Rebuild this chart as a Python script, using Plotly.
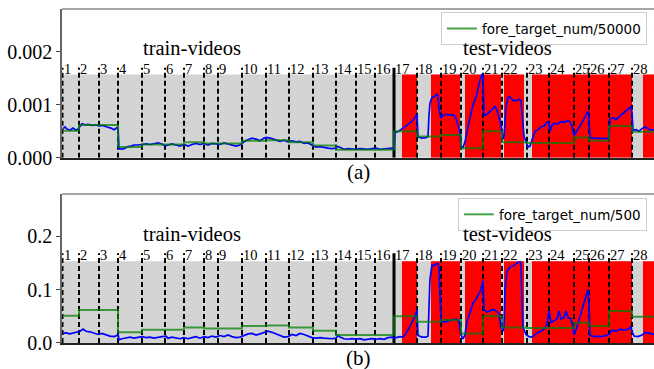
import plotly.graph_objects as go

# ---------------- data ----------------
video_labels = ["1", "2", "3", "4", "5", "6", "7", "8", "9", "10", "11", "12", "13", "14",
                "15", "16", "17", "18", "19", "20", "21", "22", "23", "24", "25", "26", "27", "28"]
video_start = [5, 170, 370, 560, 800, 1030, 1220, 1420, 1560, 1800, 2040, 2270, 2510, 2740,
               2940, 3130, 3320, 3550, 3790, 3990, 4210, 4400, 4650, 4870, 5120, 5270, 5470, 5700]
fore_target_num = [25.5, 31, 31, 10, 12.5, 12.5, 14.5, 13.5, 13.5, 16, 16.5, 14.5, 11.5, 7.5,
                   7.5, 7.5, 25, 20, 21.5, 9, 25, 14.5, 14, 14, 19, 16, 30, 24.5]
frame_end = 5920
test_start_video = 16  # index of video 17 (first test video)

red_start = [3400, 3690, 4030, 4420, 4700, 5810]
red_end = [3550, 3980, 4390, 4620, 5700, 6300]

# blue curve, panel (a)
blue_a_frames = [10, 30, 50, 80, 110, 140, 160, 180, 200, 230, 260, 300, 340, 370, 410, 450, 490, 520, 540, 560,
                 570, 600, 630, 660, 690, 720, 760, 800, 840, 880, 920, 960, 1000, 1030, 1060, 1100, 1140, 1180,
                 1220, 1260, 1300, 1340, 1380, 1420, 1460, 1500, 1540, 1580, 1620, 1660, 1700, 1740, 1780, 1820,
                 1860, 1900, 1940, 1980, 2020, 2060, 2100, 2140, 2180, 2220, 2260, 2300, 2340, 2380, 2420, 2460,
                 2500, 2540, 2580, 2620, 2660, 2700, 2740, 2760, 2780, 2820, 2860, 2900, 2940, 2980, 3020, 3060,
                 3100, 3140, 3180, 3220, 3260, 3300, 3320,
                 3330, 3360, 3390, 3430, 3470, 3510, 3540, 3550,
                 3560, 3600, 3640, 3660, 3670, 3680, 3700, 3730, 3750, 3760, 3770,
                 3790, 3810, 3840, 3880, 3920, 3940, 3960, 3980,
                 3990, 4010, 4030, 4060, 4090, 4120, 4150, 4170, 4190, 4200, 4210,
                 4220, 4250, 4280, 4310, 4330, 4350, 4370, 4390, 4410,
                 4420, 4440, 4460, 4480, 4510, 4540, 4570, 4590, 4600, 4620, 4640,
                 4660, 4680, 4700, 4730, 4760, 4790, 4820, 4850, 4870,
                 4880, 4900, 4930, 4960, 4990, 5020, 5050, 5080, 5100, 5120,
                 5150, 5180, 5210, 5240, 5260, 5270,
                 5280, 5320, 5360, 5400, 5440, 5470,
                 5480, 5510, 5540, 5570, 5600, 5630, 5660, 5690, 5700,
                 5710, 5740, 5770, 5800, 5830, 5860, 5890, 5920]
blue_a_vals = [0.00055, 0.00058, 0.00054, 0.00052, 0.00056, 0.00052, 0.00054, 0.00060, 0.00064, 0.00062,
               0.00063, 0.00061, 0.00062, 0.00060, 0.00061, 0.00058, 0.00056, 0.00053, 0.00055, 0.00058,
               0.00017, 0.00016, 0.00018, 0.00021, 0.00022, 0.00024, 0.00024, 0.00025, 0.00026, 0.00025,
               0.00026, 0.00028, 0.00026, 0.00022, 0.00024, 0.00026, 0.00024, 0.00022, 0.00025, 0.00022,
               0.00025, 0.00027, 0.00025, 0.00027, 0.00024, 0.00027, 0.00026, 0.00025, 0.00028, 0.00026,
               0.00024, 0.00022, 0.00024, 0.00030, 0.00034, 0.00037, 0.00035, 0.00032, 0.00037, 0.00038,
               0.00036, 0.00033, 0.00031, 0.00033, 0.00030, 0.00032, 0.00030, 0.00031, 0.00027, 0.00028,
               0.00024, 0.00020, 0.00021, 0.00019, 0.00018, 0.00017, 0.00018, 0.00021, 0.00019, 0.00016,
               0.00017, 0.00016, 0.00016, 0.00017, 0.00016, 0.00016, 0.00017, 0.00018, 0.00016, 0.00017,
               0.00018, 0.00018, 0.00017,
               0.00048, 0.00049, 0.00053, 0.00058, 0.00064, 0.00071, 0.00080, 0.00082,
               0.00039, 0.00037, 0.00038, 0.00040, 0.00080, 0.00103, 0.00114, 0.00116, 0.00120, 0.00118, 0.00090,
               0.00075, 0.00080, 0.00082, 0.00081, 0.00080, 0.00075, 0.00060, 0.00047,
               0.00022, 0.00019, 0.00030, 0.00060, 0.00085, 0.00105, 0.00120, 0.00140, 0.00152, 0.00158, 0.00155,
               0.00080, 0.00082, 0.00088, 0.00095, 0.00097, 0.00090, 0.00075, 0.00062, 0.00035,
               0.00040, 0.00095, 0.00114, 0.00115, 0.00108, 0.00108, 0.00110, 0.00108, 0.00080, 0.00040, 0.00030,
               0.00020, 0.00022, 0.00035, 0.00050, 0.00053, 0.00058, 0.00060, 0.00067, 0.00066,
               0.00050, 0.00062, 0.00065, 0.00064, 0.00068, 0.00067, 0.00070, 0.00068, 0.00060, 0.00042,
               0.00050, 0.00060, 0.00070, 0.00080, 0.00088, 0.00070,
               0.00038, 0.00037, 0.00037, 0.00036, 0.00036, 0.00036,
               0.00073, 0.00075, 0.00072, 0.00077, 0.00083, 0.00088, 0.00092, 0.00096, 0.00085,
               0.00052, 0.00053, 0.00050, 0.00055, 0.00058, 0.00055, 0.00052, 0.00053]

# blue curve, panel (b)
blue_b_frames = [10, 40, 80, 120, 160, 180, 210, 240, 280, 320, 360, 400, 440, 480, 520, 550, 560,
                 570, 600, 640, 680, 720, 760, 800, 840, 880, 920, 960, 1000, 1040, 1060, 1100, 1140,
                 1180, 1220, 1260, 1300, 1340, 1380, 1420, 1460, 1500, 1540, 1580, 1620, 1660, 1700,
                 1740, 1780, 1820, 1860, 1900, 1940, 1980, 2020, 2060, 2100, 2140, 2180, 2220, 2260,
                 2300, 2340, 2380, 2420, 2460, 2500, 2540, 2580, 2620, 2660, 2700, 2740, 2760, 2780,
                 2820, 2860, 2900, 2940, 2980, 3020, 3060, 3100, 3140, 3180, 3220, 3260, 3300, 3320,
                 3340, 3380, 3410, 3440, 3470, 3500, 3530, 3550,
                 3560, 3600, 3640, 3660, 3670, 3680, 3700, 3720, 3740, 3760, 3770, 3780,
                 3790, 3820, 3860, 3900, 3940, 3970,
                 3990, 4010, 4030, 4050, 4080, 4110, 4140, 4170, 4190, 4210,
                 4220, 4250, 4280, 4310, 4340, 4370, 4390, 4410,
                 4420, 4430, 4450, 4480, 4520, 4550, 4580, 4590, 4600, 4610, 4640, 4670,
                 4700, 4730, 4760, 4790, 4820, 4850, 4870,
                 4890, 4920, 4950, 4970, 4990, 5020, 5040, 5060, 5090, 5110, 5120,
                 5150, 5180, 5210, 5240, 5260, 5270,
                 5280, 5320, 5360, 5400, 5440, 5470,
                 5500, 5540, 5580, 5620, 5660, 5690, 5700,
                 5720, 5760, 5800, 5840, 5880, 5920]
blue_b_vals = [0.018, 0.019, 0.017, 0.019, 0.020, 0.022, 0.026, 0.022, 0.021, 0.018, 0.016, 0.018, 0.015,
               0.013, 0.012, 0.014, 0.017,
               0.006, 0.008, 0.010, 0.011, 0.009, 0.011, 0.012, 0.010, 0.011, 0.009, 0.011, 0.012, 0.013,
               0.009, 0.011, 0.010, 0.008, 0.010, 0.008, 0.010, 0.012, 0.009, 0.012, 0.010, 0.013, 0.011,
               0.014, 0.012, 0.015, 0.012, 0.010, 0.011, 0.014, 0.017, 0.018, 0.015, 0.017, 0.019, 0.022,
               0.020, 0.017, 0.013, 0.011, 0.012, 0.016, 0.014, 0.018, 0.016, 0.013, 0.010, 0.009, 0.010,
               0.009, 0.008, 0.008, 0.009, 0.014, 0.011, 0.008, 0.007, 0.008, 0.007, 0.008, 0.006, 0.007,
               0.008, 0.007, 0.008, 0.007, 0.010, 0.011, 0.009,
               0.010, 0.012, 0.011, 0.018, 0.028, 0.038, 0.050, 0.062,
               0.014, 0.011, 0.011, 0.013, 0.060, 0.120, 0.146, 0.145, 0.148, 0.149, 0.140, 0.080,
               0.040, 0.039, 0.041, 0.042, 0.045, 0.040,
               0.015, 0.008, 0.015, 0.040, 0.060, 0.075, 0.082, 0.092, 0.100, 0.117,
               0.062, 0.058, 0.060, 0.063, 0.060, 0.055, 0.030, 0.022,
               0.030, 0.100, 0.135, 0.142, 0.145, 0.150, 0.152, 0.148, 0.080, 0.030, 0.016, 0.012,
               0.011, 0.015, 0.020, 0.022, 0.026, 0.035, 0.060,
               0.038, 0.042, 0.045, 0.060, 0.045, 0.047, 0.060, 0.048, 0.045, 0.030, 0.015,
               0.030, 0.050, 0.070, 0.090, 0.100, 0.070,
               0.014, 0.012, 0.013, 0.012, 0.014, 0.016,
               0.024, 0.022, 0.026, 0.024, 0.026, 0.030, 0.022,
               0.013, 0.012, 0.015, 0.020, 0.018, 0.016]

assert len(blue_a_frames) == len(blue_a_vals)
assert len(blue_b_frames) == len(blue_b_vals)

panels = [
    dict(x="x", y="y", scale=50000, name="fore_target_num/50000", legend="legend",
         yrange=[0, 0.00281], band_top=0.00157, line_top=0.0017,
         tickvals=[0, 0.001, 0.002], ticktext=["0.000", "0.001", "0.002"], title_y=0.00207,
         bx=blue_a_frames, by=blue_a_vals),
    dict(x="x2", y="y2", scale=500, name="fore_target_num/500", legend="legend2",
         yrange=[0, 0.279], band_top=0.153, line_top=0.168,
         tickvals=[0, 0.1, 0.2], ticktext=["0.0", "0.1", "0.2"], title_y=0.205,
         bx=blue_b_frames, by=blue_b_vals),
]

SERIF = "Liberation Serif, Times New Roman, serif"
fig = go.Figure()
shapes = []
annotations = []

for p in panels:
    xr, yr = p["x"], p["y"]
    # blue curve
    fig.add_trace(go.Scatter(x=p["bx"], y=p["by"], mode="lines", xaxis=xr, yaxis=yr,
                             line=dict(color="#0000ff", width=1.7), showlegend=False,
                             hoverinfo="skip"))
    # green step
    gx = video_start + [frame_end]
    gy = [v / p["scale"] for v in fore_target_num] + [fore_target_num[-1] / p["scale"]]
    fig.add_trace(go.Scatter(x=gx, y=gy, mode="lines", xaxis=xr, yaxis=yr, line_shape="hv",
                             line=dict(color="rgba(0,128,0,0.72)", width=2), name=p["name"],
                             legend=p["legend"], showlegend=True))
    # gray band
    shapes.append(dict(type="rect", xref=xr, yref=yr, x0=0, x1=frame_end + 200, y0=0, y1=p["band_top"],
                       fillcolor="#d3d3d3", line=dict(width=0), layer="below"))
    for a, b in zip(red_start, red_end):
        shapes.append(dict(type="rect", xref=xr, yref=yr, x0=a, x1=b, y0=0, y1=p["band_top"],
                           fillcolor="#ff0000", line=dict(width=0), layer="below"))
    for i, (vs, lab) in enumerate(zip(video_start, video_labels)):
        if i == test_start_video:
            shapes.append(dict(type="line", xref=xr, yref=yr, x0=vs, x1=vs, y0=0, y1=p["line_top"],
                               line=dict(color="black", width=3), layer="below"))
        else:
            shapes.append(dict(type="line", xref=xr, yref=yr, x0=vs, x1=vs, y0=0, y1=p["line_top"],
                               line=dict(color="black", width=2, dash="5px,3px"), layer="below"))
        annotations.append(dict(x=vs, y=p["band_top"], xref=xr, yref=yr, text=lab, showarrow=False,
                                xanchor="left", yanchor="bottom", xshift=0, yshift=-3, borderpad=0,
                                font=dict(family=SERIF, size=14.5, color="black")))
    # top spine
    shapes.append(dict(type="line", xref="paper", yref=yr + " domain", x0=0, x1=1, y0=1, y1=1,
                       line=dict(color="#888888", width=1.5)))
    annotations.append(dict(x=1300, y=p["title_y"], xref=xr, yref=yr, text="train-videos",
                            showarrow=False, yanchor="middle", borderpad=0,
                            font=dict(family=SERIF, size=20.5, color="black")))
    annotations.append(dict(x=4450, y=p["title_y"], xref=xr, yref=yr, text="test-videos",
                            showarrow=False, yanchor="middle", borderpad=0,
                            font=dict(family=SERIF, size=20.5, color="black")))

annotations.append(dict(x=0.5, y=0.512, xref="paper", yref="paper", text="(a)", showarrow=False,
                        xanchor="center", yanchor="middle",
                        font=dict(family=SERIF, size=21, color="black")))
annotations.append(dict(x=0.5, y=-0.045, xref="paper", yref="paper", text="(b)", showarrow=False,
                        xanchor="center", yanchor="middle",
                        font=dict(family=SERIF, size=21, color="black")))

xa = dict(range=[0, frame_end], showticklabels=False, ticks="", showgrid=False, zeroline=False,
          showline=True, linecolor="#222222", linewidth=1.5)
def ya(p, dom):
    return dict(range=p["yrange"], domain=dom, tickvals=p["tickvals"], ticktext=p["ticktext"],
                ticks="outside", ticklen=4, tickcolor="#444444", showgrid=False, zeroline=False,
                showline=True, linecolor="#666666", linewidth=1.5,
                tickfont=dict(family=SERIF, size=20, color="black"))

legend_style = dict(bgcolor="rgba(255,255,255,0.9)", bordercolor="#cccccc", borderwidth=1,
                    font=dict(family="DejaVu Sans", size=13.5, color="black"),
                    xanchor="right", yanchor="top", itemwidth=30, tracegroupgap=0)

fig.update_layout(
    width=654, height=369,
    margin=dict(l=62, r=0, t=9, b=26),
    paper_bgcolor="white", plot_bgcolor="white",
    xaxis=dict(xa, anchor="y"),
    xaxis2=dict(xa, anchor="y2"),
    yaxis=ya(panels[0], [0.5548, 1.0]),
    yaxis2=ya(panels[1], [0.0, 0.446]),
    shapes=shapes, annotations=annotations,
    legend=dict(legend_style, x=0.988, y=0.99),
    legend2=dict(legend_style, x=0.988, y=0.434),
)

fig.write_html("out.html")
